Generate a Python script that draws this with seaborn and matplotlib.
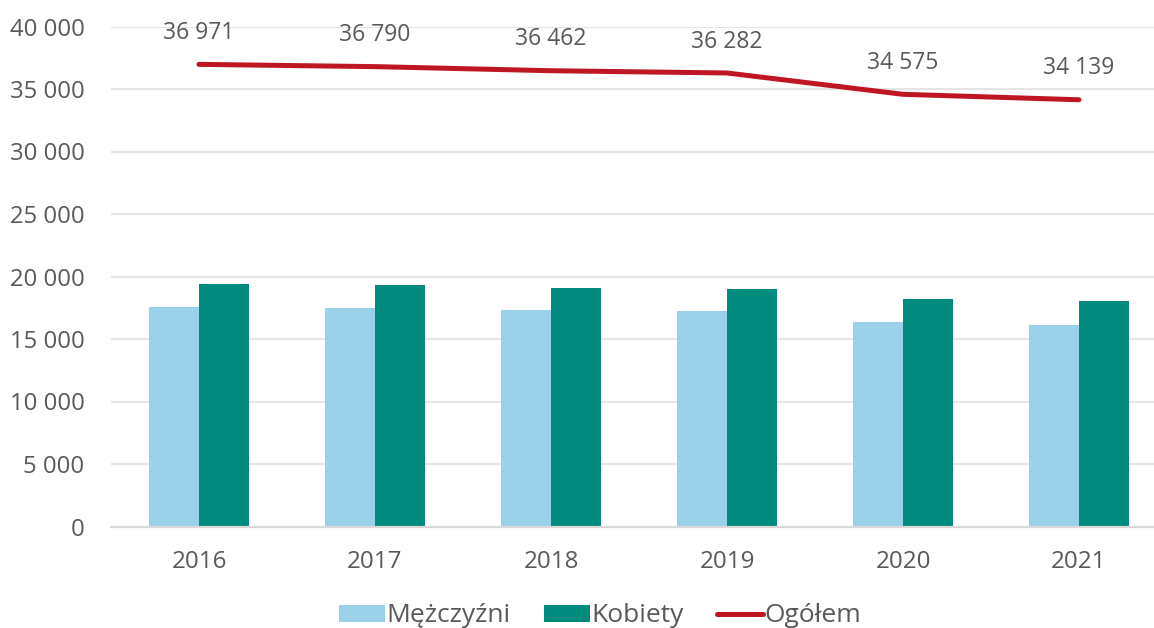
import numpy as np
import pandas as pd
import matplotlib
matplotlib.use("Agg")
import matplotlib.pyplot as plt
import seaborn as sns
from matplotlib.lines import Line2D
from matplotlib.patches import Patch

years = ["2016", "2017", "2018", "2019", "2020", "2021"]
men = [17600, 17500, 17350, 17250, 16370, 16100]
women = [19371, 19290, 19112, 19032, 18205, 18039]
total = [36971, 36790, 36462, 36282, 34575, 34139]
total_labels = ["36 971", "36 790", "36 462", "36 282", "34 575", "34 139"]
yticks = [0, 5000, 10000, 15000, 20000, 25000, 30000, 35000, 40000]
ytick_labels = ["0", "5 000", "10 000", "15 000", "20 000", "25 000", "30 000", "35 000", "40 000"]
series_names = ["Mężczyźni", "Kobiety", "Ogółem"]

c_men = "#9BD1E8"
c_women = "#008B7E"
c_total = "#BE1622"
txt = "#595959"

sns.set_style("white")
plt.rcParams["font.family"] = ["Open Sans", "DejaVu Sans"]

df = pd.DataFrame({
    "year": years * 2,
    "value": men + women,
    "series": [series_names[0]] * 6 + [series_names[1]] * 6,
})

fig = plt.figure(figsize=(11.54, 6.28), dpi=100)
ax = fig.add_axes([111 / 1154, 101.5 / 628, 1 - 111 / 1154, 500 / 628])

sns.barplot(data=df, x="year", y="value", hue="series", order=years,
            palette=[c_men, c_women], width=0.568, gap=0, saturation=1,
            linewidth=0, ax=ax, legend=False, zorder=2)

sns.lineplot(x=np.arange(len(years)), y=total, color=c_total, linewidth=3.6,
             ax=ax, zorder=3, solid_capstyle="round")

for i, (v, lab) in enumerate(zip(total, total_labels)):
    ax.annotate(lab, (i, v), xytext=(0, 14), textcoords="offset points",
                ha="center", va="bottom", fontsize=16.5, color=txt)

ax.set_ylim(0, 40000)
ax.set_xlim(-0.5, (1154 - 111) / 176 - 0.5)
ax.set_yticks(yticks)
ax.set_yticklabels(ytick_labels)
ax.grid(axis="y", color="#E5E5E5", linewidth=1.6, zorder=0)
ax.set_axisbelow(True)
for s in ["top", "right", "left"]:
    ax.spines[s].set_visible(False)
ax.spines["bottom"].set_color("#D9D9D9")
ax.spines["bottom"].set_linewidth(1.6)
ax.tick_params(axis="both", length=0, colors=txt)
ax.tick_params(axis="y", pad=19, labelsize=17.2)
ax.tick_params(axis="x", pad=17, labelsize=17.4)
ax.set_xlabel("")
ax.set_ylabel("")

handles = [Patch(facecolor=c_men, edgecolor="none"),
           Patch(facecolor=c_women, edgecolor="none"),
           Line2D([0], [0], color=c_total, linewidth=3.6, solid_capstyle="round")]
leg = fig.legend(handles, series_names, loc="center", bbox_to_anchor=(600 / 1154, 1 - 616 / 628),
                 ncol=3, frameon=False, fontsize=19, handlelength=1.75, handleheight=0.6,
                 handletextpad=0.05, columnspacing=1.25, labelcolor=txt)

fig.savefig("out.png", dpi=100, facecolor="white")
